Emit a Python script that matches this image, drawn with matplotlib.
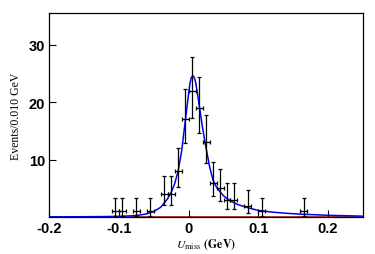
import numpy as np
import matplotlib
matplotlib.use("Agg")
import matplotlib.pyplot as plt

plt.rcParams["mathtext.fontset"] = "stix"

# --- data ---

bin_centers = [-0.105, -0.095, -0.075, -0.055, -0.035, -0.025, -0.015, -0.005,
               0.005, 0.015, 0.025, 0.035, 0.045, 0.055, 0.065, 0.085, 0.105, 0.165]
counts = [1, 1, 1, 1, 4, 4, 8, 17, 22, 19, 13, 6, 5, 3, 3, 2, 1, 1]

# poisson error bars (lower / upper), as drawn
err_low = [0.83, 0.83, 0.83, 0.83, 1.91, 1.91, 2.77, 4.12, 4.73, 4.37, 3.57,
           2.38, 2.16, 1.63, 1.63, 1.29, 0.83, 0.83]
err_high = [2.30, 2.30, 2.30, 2.30, 3.16, 3.16, 3.94, 5.21, 5.78, 5.45, 4.69,
            3.58, 3.38, 2.92, 2.92, 2.64, 2.30, 2.30]

# fitted curve
curve_x = [-0.20, -0.15, -0.12, -0.10, -0.08, -0.07, -0.06, -0.05, -0.04, -0.03,
           -0.025, -0.02, -0.015, -0.01, -0.005, 0.0, 0.002, 0.004, 0.006, 0.008,
           0.010, 0.012, 0.016, 0.02, 0.025, 0.03, 0.035, 0.04, 0.045, 0.05,
           0.055, 0.06, 0.07, 0.08, 0.09, 0.10, 0.12, 0.14, 0.16, 0.18, 0.20, 0.25]
curve_y = [0.02, 0.05, 0.08, 0.12, 0.22, 0.35, 0.55, 0.95, 1.7, 3.2,
           4.3, 5.8, 8.0, 11.5, 16.5, 21.5, 23.3, 24.3, 24.6, 24.3,
           23.5, 22.0, 18.8, 15.5, 12.0, 8.8, 6.4, 5.2, 4.4, 3.7,
           3.2, 2.8, 2.2, 1.8, 1.45, 1.15, 0.85, 0.65, 0.5, 0.4, 0.3, 0.15]

x_ticks = [-0.2, -0.1, 0, 0.1, 0.2]
x_tick_labels = ["-0.2", "-0.1", "0", "0.1", "0.2"]
y_ticks = [10, 20, 30]

# -------------------------------------------------

fig = plt.figure(figsize=(3.75, 2.55), dpi=100)
ax = fig.add_axes([0.131, 0.145, 0.837, 0.8])

# background component (flat at zero)
ax.plot([-0.2, 0.25], [0, 0], color="#a00000", lw=1.8, zorder=2)

ax.plot(curve_x, curve_y, color="#0000ee", lw=1.1, zorder=3)

ax.errorbar(bin_centers, counts, yerr=[err_low, err_high], xerr=0.005,
            fmt="none", ecolor="black", elinewidth=0.9, capsize=1.4,
            capthick=0.9, zorder=4)

ax.set_xlim(-0.2, 0.25)
ax.set_ylim(0, 35.5)

ax.set_xticks(x_ticks)
ax.set_xticklabels(x_tick_labels)
ax.set_yticks(y_ticks)

ax.tick_params(direction="in", length=5, width=0.8, pad=3)
for lab in ax.get_xticklabels() + ax.get_yticklabels():
    lab.set_fontfamily("Liberation Sans")
    lab.set_fontweight("bold")
    lab.set_fontsize(10.5)

for sp in ax.spines.values():
    sp.set_linewidth(0.9)

ax.set_ylabel("Events/0.010 GeV", fontfamily="Liberation Serif", fontsize=8.5, labelpad=5)
ax.set_xlabel(r"$U_{\rm miss}$ $\mathbf{(GeV)}$", fontsize=8.5, labelpad=1)

plt.savefig("out.png", dpi=100)
